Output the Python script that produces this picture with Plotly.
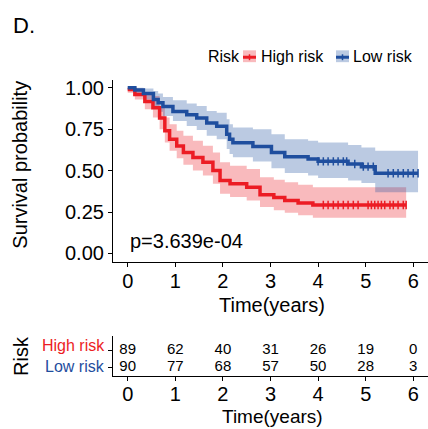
import numpy as np
import plotly.graph_objects as go

# Kaplan-Meier step curves (time in years) with 95% confidence limits
high_t = [0, 0.15, 0.36, 0.53, 0.67, 0.78, 0.88, 1.03, 1.17, 1.37, 1.58, 1.79, 1.94,
          2.15, 2.50, 2.78, 3.07, 3.30, 3.58, 3.89, 5.85]
high_s = [0.989, 0.96, 0.917, 0.88, 0.817, 0.74, 0.69, 0.649, 0.609, 0.579, 0.55, 0.50,
          0.44, 0.42, 0.40, 0.355, 0.337, 0.32, 0.305, 0.292, 0.292]
high_up = [1.0, 0.995, 0.97, 0.95, 0.89, 0.82, 0.78, 0.74, 0.71, 0.68, 0.65, 0.61, 0.55,
           0.53, 0.51, 0.46, 0.445, 0.43, 0.415, 0.40, 0.40]
high_lo = [0.97, 0.93, 0.87, 0.82, 0.75, 0.67, 0.62, 0.575, 0.535, 0.50, 0.47, 0.42, 0.36,
           0.34, 0.32, 0.28, 0.26, 0.245, 0.23, 0.215, 0.215]
high_censor = [4.11, 4.21, 4.32, 4.42, 4.53, 4.63, 4.74, 4.84, 5.05, 5.12, 5.19, 5.26,
               5.33, 5.40, 5.51, 5.58, 5.68, 5.79, 5.85]

low_t = [0, 0.15, 0.33, 0.54, 0.64, 0.74, 0.95, 1.24, 1.45, 1.66, 1.87, 2.08, 2.14, 2.21,
         2.63, 3.02, 3.30, 3.79, 4.0, 4.63, 4.91, 5.2, 6.1]
low_s = [1.0, 0.986, 0.966, 0.93, 0.91, 0.887, 0.857, 0.837, 0.817, 0.787, 0.768, 0.72,
         0.69, 0.668, 0.645, 0.609, 0.583, 0.57, 0.556, 0.54, 0.524, 0.484, 0.484]
low_up = [1.0, 1.0, 0.995, 0.98, 0.965, 0.945, 0.925, 0.905, 0.89, 0.86, 0.85, 0.81, 0.78,
          0.76, 0.75, 0.72, 0.69, 0.68, 0.67, 0.655, 0.64, 0.62, 0.62]
low_lo = [0.99, 0.96, 0.93, 0.88, 0.855, 0.83, 0.80, 0.77, 0.745, 0.71, 0.69, 0.63, 0.60,
          0.58, 0.555, 0.515, 0.485, 0.47, 0.455, 0.44, 0.425, 0.37, 0.37]
low_censor = [4.0, 4.11, 4.21, 4.32, 4.42, 4.53, 4.60, 4.77, 4.95, 5.05, 5.16, 5.47,
              5.58, 5.68, 5.79, 5.89, 6.0, 6.1]

# Number at risk
risk_times = [0, 1, 2, 3, 4, 5, 6]
high_at_risk = [89, 62, 40, 31, 26, 19, 0]
low_at_risk = [90, 77, 68, 57, 50, 28, 3]

y_ticks = [0, 0.25, 0.5, 0.75, 1.0]
x_ticks = [0, 1, 2, 3, 4, 5, 6]
p_text = "p=3.639e-04"

RED = "#EC1C24"
BLUE = "#1F4E9E"
RED_FILL = "rgba(236,28,36,0.3)"
BLUE_FILL = "rgba(31,78,158,0.3)"
FONT = "Liberation Sans, Arial, sans-serif"

W, H = 428, 429


def px(x):
    return x / W


def py(y):
    return 1 - y / H


def step_value(times, values, t):
    idx = np.searchsorted(np.asarray(times), t, side="right") - 1
    return float(np.asarray(values)[max(idx, 0)])


fig = go.Figure()

for t, up, lo, fill in [
    (high_t, high_up, high_lo, RED_FILL),
    (low_t, low_up, low_lo, BLUE_FILL),
]:
    fig.add_trace(go.Scatter(x=t, y=up, mode="lines", line=dict(width=0, shape="hv"),
                             hoverinfo="skip", showlegend=False, xaxis="x", yaxis="y"))
    fig.add_trace(go.Scatter(x=t, y=lo, mode="lines", line=dict(width=0, shape="hv"),
                             fill="tonexty", fillcolor=fill, hoverinfo="skip",
                             showlegend=False, xaxis="x", yaxis="y"))

for t, s, cens, col in [
    (high_t, high_s, high_censor, RED),
    (low_t, low_s, low_censor, BLUE),
]:
    fig.add_trace(go.Scatter(x=t, y=s, mode="lines", line=dict(width=3.5, color=col, shape="hv"),
                             showlegend=False, xaxis="x", yaxis="y"))
    fig.add_trace(go.Scatter(x=cens, y=[step_value(t, s, c) for c in cens], mode="markers",
                             marker=dict(symbol="line-ns", size=6,
                                         line=dict(width=1.5, color=col)),
                             showlegend=False, xaxis="x", yaxis="y"))

# Risk table numbers (row positions on the table's 0-1 axis)
ROW_HIGH, ROW_LOW = 0.64, 0.22
for row_y, counts in [(ROW_HIGH, high_at_risk), (ROW_LOW, low_at_risk)]:
    fig.add_trace(go.Scatter(x=risk_times, y=[row_y] * len(risk_times), mode="text",
                             text=[str(c) for c in counts],
                             textfont=dict(size=15, color="black", family=FONT),
                             showlegend=False, xaxis="x2", yaxis="y2"))

x_range = [-0.309, 6.309]
axis_common = dict(showline=True, linecolor="black", linewidth=1.2, ticks="outside",
                   ticklen=4, tickcolor="black", showgrid=False, zeroline=False,
                   tickfont=dict(size=20, color="black", family=FONT))

fig.update_layout(
    width=W, height=H,
    margin=dict(l=0, r=0, t=0, b=0),
    paper_bgcolor="white", plot_bgcolor="white",
    showlegend=False,
    xaxis=dict(domain=[px(113), 1], range=x_range, tickvals=x_ticks, anchor="y",
               ticklabelstandoff=-3, **axis_common),
    yaxis=dict(domain=[py(262.4), py(77.6)], range=[-0.05, 1.05], tickvals=y_ticks,
               ticktext=[f"{v:.2f}" for v in y_ticks], anchor="x", **axis_common),
    xaxis2=dict(domain=[px(113), 1], range=x_range, tickvals=x_ticks, anchor="y2",
                ticklabelstandoff=-4, **axis_common),
    yaxis2=dict(domain=[py(378), py(338)], range=[0, 1], anchor="x2",
                showline=True, linecolor="black", linewidth=1.2, ticks="outside",
                ticklen=4, tickcolor="black", tickvals=[ROW_LOW, ROW_HIGH],
                showticklabels=False, showgrid=False, zeroline=False),
)


def label(x, y, text, size, color="black", xanchor="center", angle=0, xref="paper", yref="paper"):
    return dict(x=x, y=y, xref=xref, yref=yref, text=text, showarrow=False,
                xanchor=xanchor, yanchor="middle", textangle=angle,
                font=dict(size=size, color=color, family=FONT))


ann = [
    # Panel tag
    label(px(11), py(23), "D.", 22, xanchor="left"),
    # Axis titles
    label(px(20), py(164), "Survival probability", 20, angle=-90),
    label(px(272), py(306), "Time(years)", 20),
    label(px(272), py(419), "Time(years)", 19),
    label(px(21), py(358), "Risk", 20, angle=-90),
    # Risk table row labels
    label(px(107), py(347), "High risk", 16, color=RED, xanchor="right"),
    label(px(107), py(369), "Low risk", 16, color=BLUE, xanchor="right"),
    # p-value
    label(0, 0.073, p_text, 20, xanchor="left", xref="x", yref="y"),
    # Legend texts
    label(px(206), py(54), "Risk", 16, xanchor="left"),
    label(px(259), py(54), "High risk", 16, xanchor="left"),
    label(px(351), py(54), "Low risk", 16, xanchor="left"),
]
fig.update_layout(annotations=ann)

# Legend keys
shapes = []
for x0, col, fill in [(243, RED, RED_FILL), (336, BLUE, BLUE_FILL)]:
    shapes.append(dict(type="rect", xref="paper", yref="paper", x0=px(x0), x1=px(x0 + 13),
                       y0=py(60), y1=py(48), fillcolor=fill, line=dict(width=0)))
    shapes.append(dict(type="line", xref="paper", yref="paper", x0=px(x0), x1=px(x0 + 13),
                       y0=py(55), y1=py(55), line=dict(color=col, width=3)))
    shapes.append(dict(type="line", xref="paper", yref="paper", x0=px(x0 + 6.5), x1=px(x0 + 6.5),
                       y0=py(52), y1=py(58), line=dict(color=col, width=1.5)))
fig.update_layout(shapes=shapes)

fig.write_html("out.html")
